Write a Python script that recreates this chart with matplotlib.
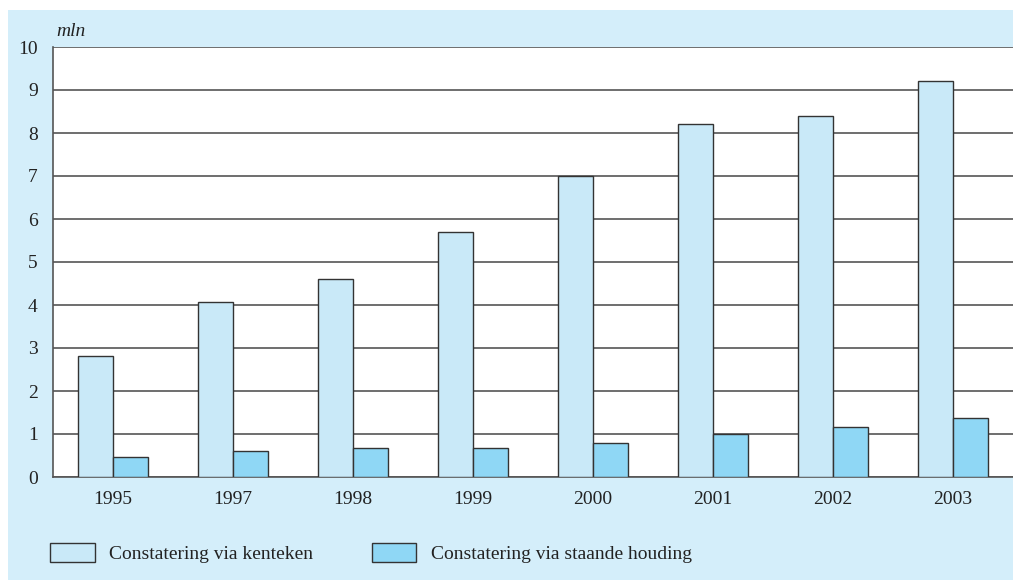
import matplotlib
matplotlib.use("Agg")
import matplotlib.pyplot as plt
from matplotlib.patches import Rectangle, Patch
import numpy as np

years = ["1995", "1997", "1998", "1999", "2000", "2001", "2002", "2003"]
kenteken = [2.82, 4.07, 4.6, 5.7, 7.0, 8.21, 8.4, 9.22]
staande = [0.46, 0.6, 0.67, 0.67, 0.79, 1.0, 1.16, 1.37]
series_labels = ["Constatering via kenteken", "Constatering via staande houding"]

W, H = 1013, 581
plt.rcParams['font.family'] = ['Liberation Serif', 'DejaVu Serif']
fig = plt.figure(figsize=(W / 100, H / 100), dpi=100, facecolor="white")

bg = "#d4eefa"
c_light = "#c9e9f8"
c_dark = "#8fd7f5"
edge = "#333333"

fig.patches.append(Rectangle((8 / W, 1 / H), 1 - 8 / W, (H - 11) / H,
                             transform=fig.transFigure, facecolor=bg,
                             edgecolor="none", zorder=-10))

left, right, top, bottom = 53, 1013, 47, 477
ax = fig.add_axes([left / W, (H - bottom) / H, (right - left) / W, (bottom - top) / H])
ax.set_facecolor("white")

x = np.arange(len(years))
bw = 35 / 120
ax.bar(x - bw / 2, kenteken, width=bw, color=c_light, edgecolor=edge, linewidth=1.0, zorder=3)
ax.bar(x + bw / 2, staande, width=bw, color=c_dark, edgecolor=edge, linewidth=1.0, zorder=3)

ax.set_xlim(-0.5, len(years) - 0.5)
ax.set_ylim(0, 10)
ax.set_yticks(range(0, 11))
ax.set_xticks(x)
ax.set_xticklabels(years)
ax.tick_params(axis="both", length=0, labelsize=14, colors="#222222")
ax.tick_params(axis="x", pad=10)
ax.tick_params(axis="y", pad=11)
ax.yaxis.grid(True, color="#555555", linewidth=1.2, zorder=0)
ax.set_axisbelow(True)
for s in ["top", "right"]:
    ax.spines[s].set_visible(False)
for s in ["left", "bottom"]:
    ax.spines[s].set_color("#555555")
    ax.spines[s].set_linewidth(1.2)

fig.text(56 / W, (H - 32) / H, "mln", style="italic", fontsize=14,
         ha="left", va="center", color="#222222")

handles = [Patch(facecolor=c_light, edgecolor=edge, linewidth=1.0),
           Patch(facecolor=c_dark, edgecolor=edge, linewidth=1.0)]
fig.legend(handles, series_labels, loc="center left",
           bbox_to_anchor=(50 / W, (H - 553) / H), ncol=2, frameon=False,
           fontsize=14, handlelength=2.3, handleheight=1.15, handletextpad=0.75,
           columnspacing=3.0, borderpad=0, borderaxespad=0, labelcolor="#222222")

fig.savefig("out.png", dpi=100, facecolor="white")
